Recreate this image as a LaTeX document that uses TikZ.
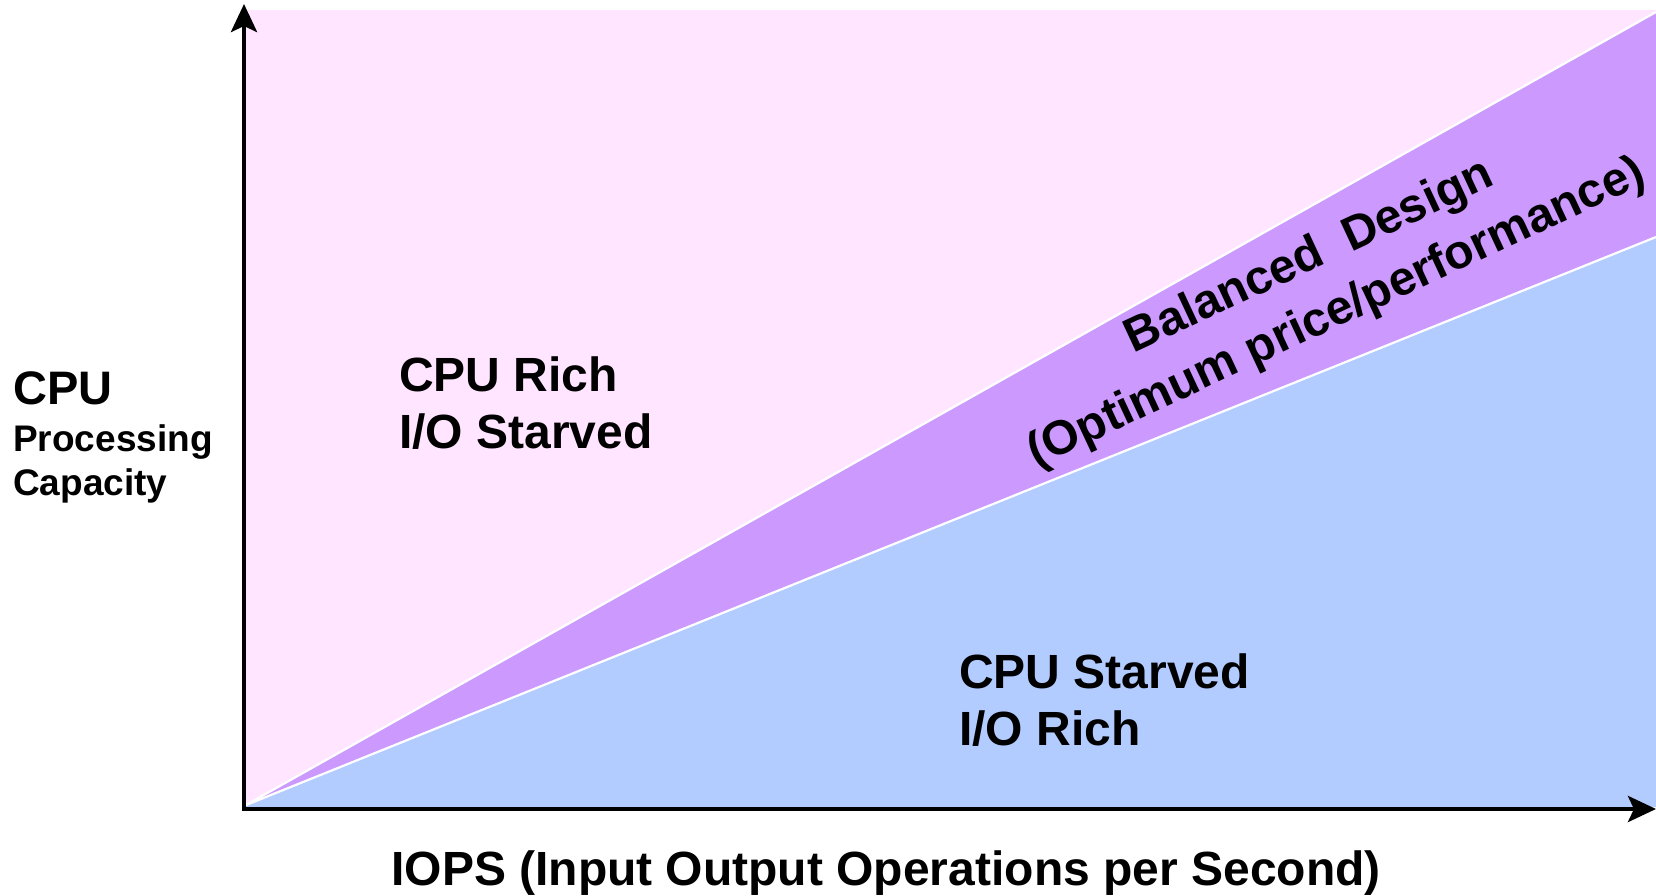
\documentclass[tikz,border=0pt]{standalone}
\usepackage{fontspec}
\setmainfont{Liberation Sans}
\usetikzlibrary{arrows.meta}
\definecolor{pinkbg}{RGB}{255,229,255}
\definecolor{purp}{RGB}{204,153,255}
\definecolor{bluebg}{RGB}{179,204,255}
\begin{document}
\begin{tikzpicture}[x=1pt,y=-1pt,
  lbl/.style={font=\bfseries\fontsize{48}{57}\selectfont, inner sep=0pt, text=black},
  small/.style={font=\bfseries\fontsize{37}{44}\selectfont, inner sep=0pt, text=black},
  axis/.style={line width=4.5pt, line cap=rect, -{Stealth[length=28pt,width=26pt,inset=6pt]}},
  sep/.style={white, line width=2.2pt}]
\useasboundingbox (0,0) rectangle (1656,896);
\coordinate (o) at (246,805);
\coordinate (u) at (1656,12);
\coordinate (l) at (1656,237);
\coordinate (br) at (1656,807);
\coordinate (bl) at (246,807);
\coordinate (ax) at (244,809);
\coordinate (ytip) at (244,4);
\coordinate (xtip) at (1656,809);
\fill[pinkbg] (246,10) rectangle (1656,807);
\fill[purp] (o) -- (u) -- (l) -- cycle;
\fill[bluebg] (o) -- (l) -- (br) -- (bl) -- cycle;
\draw[sep] (o) -- (u);
\draw[sep] (o) -- (l);
\draw[axis] (ax) -- (ytip);
\draw[axis] (ax) -- (xtip);
\node[lbl, anchor=base west] (rich1) at (399,391) {CPU Rich};
\node[lbl, anchor=base west] (rich2) at (399,448) {I/O Starved};
\node[lbl, anchor=base west] (starv1) at (959,688) {CPU Starved};
\node[lbl, anchor=base west] (starv2) at (959,745) {I/O Rich};
\node[lbl, anchor=base, rotate=25] (bal1) at (1315,269) {Balanced\ \ Design};
\node[lbl, anchor=base, rotate=25] (bal2) at (1342,325) {(Optimum price/performance)};
\node[lbl, font=\bfseries\fontsize{47}{56}\selectfont, anchor=base west] (cpu) at (13,404) {CPU};
\node[small, anchor=base west] (proc) at (13,451) {Processing};
\node[small, anchor=base west] (cap) at (13,495) {Capacity};
\node[lbl, anchor=base] (iops) at (886,885) {IOPS (Input Output Operations per Second)};
\end{tikzpicture}
\end{document}
